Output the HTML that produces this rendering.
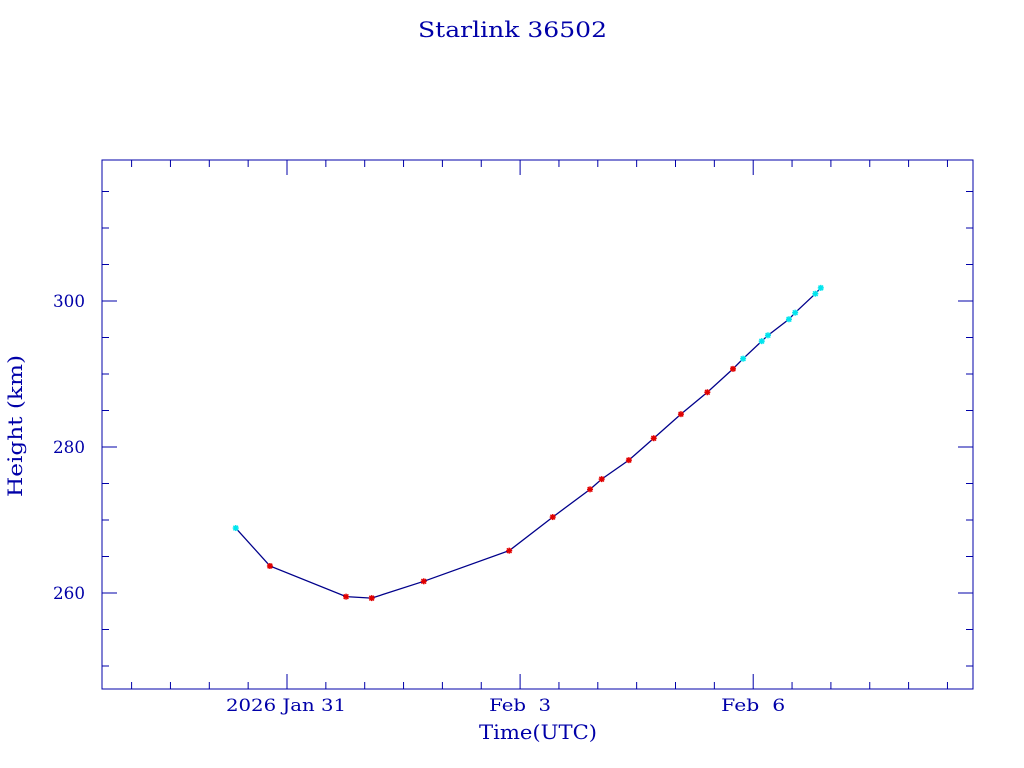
<!DOCTYPE html>
<html><head><meta charset="utf-8"><style>
html,body{margin:0;padding:0;background:#fff;width:1024px;height:768px;overflow:hidden}
svg text{font-family:"DejaVu Serif","Liberation Serif",serif;fill:#0000a8}
</style></head><body>
<svg id="chart" width="1024" height="768" viewBox="0 0 1024 768">
<text x="418" y="37" font-size="21" textLength="189" lengthAdjust="spacingAndGlyphs">Starlink 36502</text>
<rect x="102" y="160" width="871" height="529" fill="none" stroke="#0000a8" stroke-width="1"/>
<text transform="translate(22,497) rotate(-90)" font-size="20" textLength="142" lengthAdjust="spacingAndGlyphs">Height (km)</text>
<text x="479" y="739" font-size="20" textLength="118" lengthAdjust="spacingAndGlyphs">Time(UTC)</text>
<g id="ticks"></g>
<g id="marks"></g>
</svg>
<script>
const days=[-0.66,-0.22,0.76,1.09,1.76,2.86,3.42,3.90,4.05,4.40,4.72,5.07,5.41,5.74,5.87,6.11,6.19,6.46,6.54,6.80,6.87];
const heights=[268.9,263.7,259.5,259.3,261.6,265.8,270.4,274.2,275.6,278.2,281.2,284.5,287.5,290.7,292.1,294.5,295.3,297.5,298.4,301.0,301.8];
const kinds=["c","r","r","r","r","r","r","r","r","r","r","r","r","r","c","c","c","c","c","c","c"];
const yTicks=[260,280,300];
const xTickDays=[0,3,6];
const xTickLabels=["2026 Jan 31","Feb  3","Feb  6"];
const X0=287,PXD=77.7,Y300=301,PXU=7.3;
const L=102,R=973,T=160,B=689;
const xs=d=>X0+d*PXD, ys=h=>Y300-(h-300)*PXU;
const NS="http://www.w3.org/2000/svg";
const tg=document.getElementById('ticks'), mg=document.getElementById('marks');
function line(g,x1,y1,x2,y2,c,w){const l=document.createElementNS(NS,'line');l.setAttribute('x1',x1);l.setAttribute('y1',y1);l.setAttribute('x2',x2);l.setAttribute('y2',y2);l.setAttribute('stroke',c);l.setAttribute('stroke-width',w||1);g.appendChild(l);return l;}
for(let v=250;v<=315;v+=5){const y=ys(v);if(y<T||y>B)continue;const maj=v%20===0;const len=maj?15:7;
const a=line(tg,L,y,L+len,y,'#0000a8');
const b=line(tg,R-len,y,R,y,'#0000a8');}
yTicks.forEach(v=>{const t=document.createElementNS(NS,'text');t.setAttribute('x',53);t.setAttribute('y',ys(v)+6);t.setAttribute('font-size','17');t.setAttribute('textLength','32');t.setAttribute('lengthAdjust','spacingAndGlyphs');t.textContent=v;


tg.appendChild(t);});
for(let d=-2;d<=9;d+=0.5){const x=xs(d);if(x<=L||x>=R)continue;const maj=Number.isInteger(d)&&d%3===0;const len=maj?15:7;
const a=line(tg,x,B,x,B-len,'#0000a8');
const b=line(tg,x,T,x,T+len,'#0000a8');}
const xLabW=[120,62,64];
xTickDays.forEach((d,i)=>{const t=document.createElementNS(NS,'text');t.setAttribute('x',xs(d)+(i===0?-1:0));t.setAttribute('y',711);t.setAttribute('text-anchor','middle');t.setAttribute('font-size','17');t.setAttribute('textLength',xLabW[i]);t.setAttribute('lengthAdjust','spacingAndGlyphs');t.style.whiteSpace='pre';t.textContent=xTickLabels[i];


tg.appendChild(t);});
const pl=document.createElementNS(NS,'polyline');
pl.setAttribute('points',days.map((d,i)=>xs(d)+','+ys(heights[i])).join(' '));
pl.setAttribute('fill','none');pl.setAttribute('stroke','#00008b');pl.setAttribute('stroke-width','1.3');


mg.appendChild(pl);
days.forEach((d,i)=>{const x=xs(d),y=ys(heights[i]);const c=kinds[i]==='c'?'#00e5ee':'#e00000';
const g=document.createElementNS(NS,'g');


line(g,x-3,y,x+3,y,c,1.5);line(g,x,y-3,x,y+3,c,1.5);line(g,x-2.3,y-2.3,x+2.3,y+2.3,c,1.5);line(g,x-2.3,y+2.3,x+2.3,y-2.3,c,1.5);
mg.appendChild(g);});
</script>
</body></html>
